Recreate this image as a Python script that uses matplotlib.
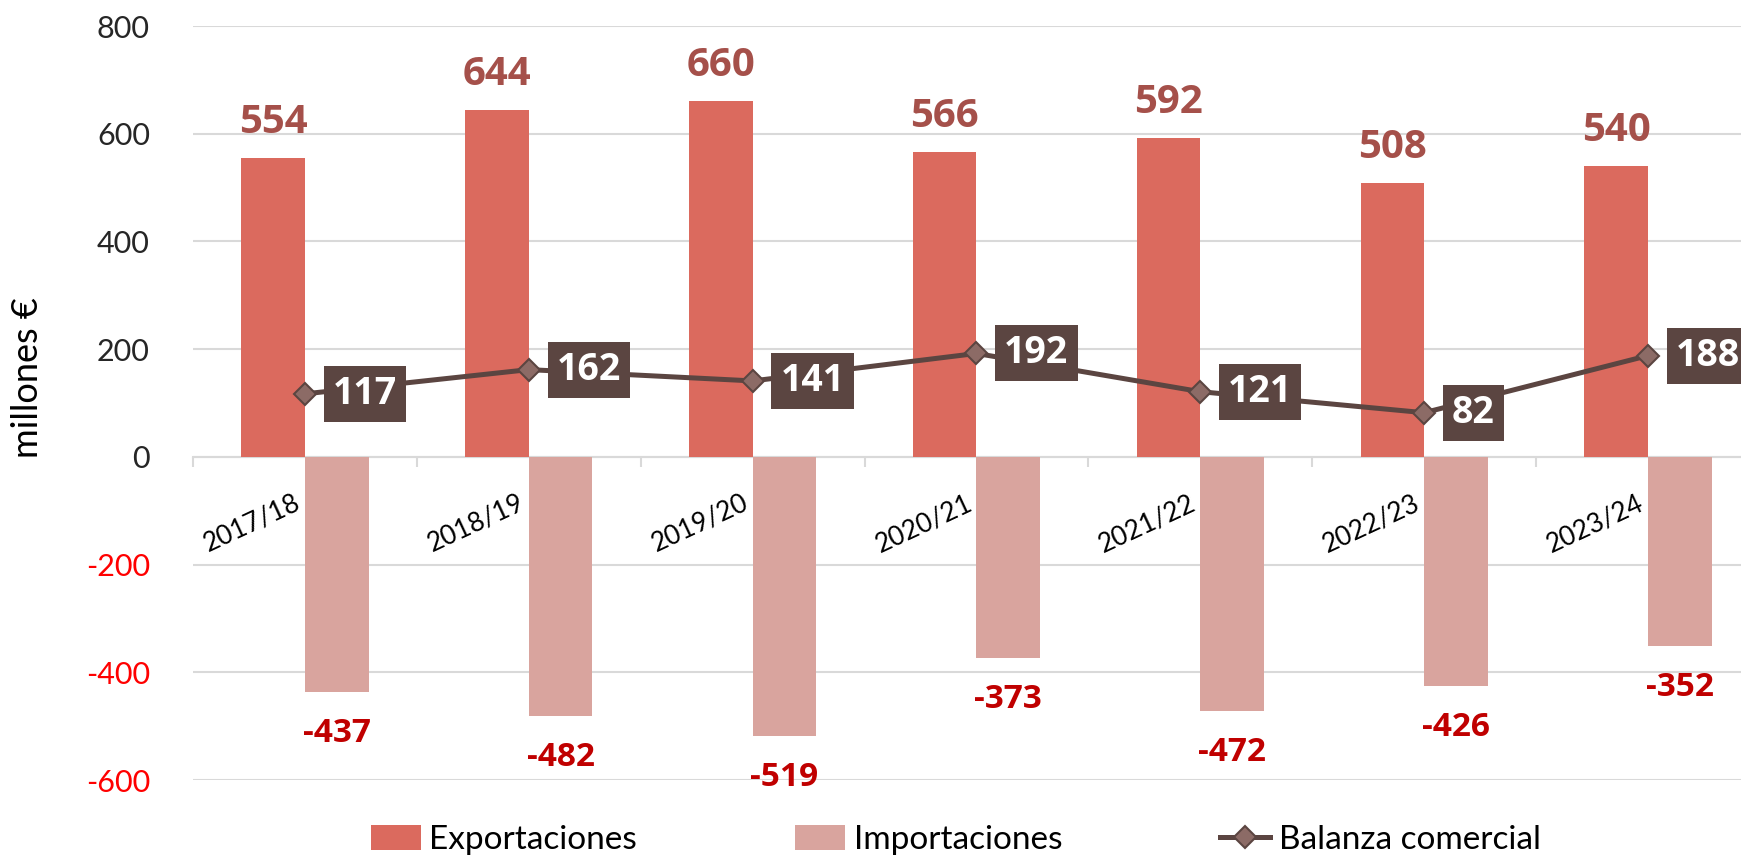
import matplotlib
matplotlib.use("Agg")
import matplotlib.pyplot as plt
import numpy as np

categories = ["2017/18", "2018/19", "2019/20", "2020/21", "2021/22", "2022/23", "2023/24"]
exportaciones = [554, 644, 660, 566, 592, 508, 540]
importaciones = [-437, -482, -519, -373, -472, -426, -352]
balanza = [117, 162, 141, 192, 121, 82, 188]
yticks = [-600, -400, -200, 0, 200, 400, 600, 800]

C_EXP = "#DB6A5E"
C_IMP = "#D9A49E"
C_EXP_LBL = "#A5504A"
C_IMP_LBL = "#C00000"
C_LINE = "#5B4541"
C_MARK = "#8C6B66"
FONT = "Lato"
BOLD = ["Open Sans", "DejaVu Sans"]

plt.rcParams["font.family"] = [FONT, "DejaVu Sans"]

W, H = 1741, 859
fig = plt.figure(figsize=(W / 100, H / 100), dpi=100)
left, right, top, bottom = 193, 1760, 26, 780
ax = fig.add_axes([left / W, 1 - bottom / H, (right - left) / W, (bottom - top) / H])

x = np.arange(len(categories))
bw = 0.284
b1 = ax.bar(x - bw / 2, exportaciones, width=bw, color=C_EXP, zorder=2, label="Exportaciones")
b2 = ax.bar(x + bw / 2, importaciones, width=bw, color=C_IMP, zorder=2, label="Importaciones")
ln, = ax.plot(x, balanza, color=C_LINE, lw=3.6, marker="D", markersize=11,
              markerfacecolor=C_MARK, markeredgecolor=C_LINE, markeredgewidth=1.5,
              zorder=4, label="Balanza comercial")

ax.set_xlim(-0.5, len(categories) - 0.5)
ax.set_ylim(-600, 800)
ax.set_yticks(yticks)
ax.set_yticklabels([str(v) for v in yticks])
for lbl, v in zip(ax.get_yticklabels(), yticks):
    lbl.set_color("#FF0000" if v < 0 else "#262626")
    lbl.set_fontsize(22)
ax.tick_params(axis="y", length=0, pad=31)
ax.grid(axis="y", color="#D9D9D9", lw=1.5, zorder=0)
ax.set_axisbelow(True)
for s in ["top", "right", "left"]:
    ax.spines[s].set_visible(False)
ax.spines["bottom"].set_position(("data", 0))
ax.spines["bottom"].set_color("#D9D9D9")
ax.spines["bottom"].set_linewidth(1.5)
ax.spines["bottom"].set_zorder(1)
ax.set_xticks(x)
ax.set_xticklabels([])
ax.tick_params(axis="x", which="major", length=0)
ax.set_xticks(np.arange(-0.5, len(categories), 1.0), minor=True)
ax.tick_params(axis="x", which="minor", length=7, width=1.5, color="#D9D9D9", direction="out")

# category labels
for i, c in enumerate(categories):
    ax.annotate(c, xy=(i, 0), xytext=(-8, -24), textcoords="offset points",
                rotation=25, rotation_mode="anchor", ha="right", va="top",
                fontsize=19, color="#000000")

ax.set_ylabel("millones €", fontsize=26, color="#000000")
ax.yaxis.set_label_coords(-0.095, 0.534)

for i, v in enumerate(exportaciones):
    ax.annotate(str(v), xy=(i - bw / 2, v), xytext=(0, 18), textcoords="offset points",
                ha="center", va="baseline", fontsize=29, fontweight="bold",
                family=BOLD, color=C_EXP_LBL)
for i, v in enumerate(importaciones):
    ax.annotate(str(v), xy=(i + bw / 2, v), xytext=(0, -36), textcoords="offset points",
                ha="center", va="baseline", fontsize=24, fontweight="bold",
                family=BOLD, color=C_IMP_LBL)
for i, v in enumerate(balanza):
    ax.annotate(str(v), xy=(i, v), xytext=(20, 0), textcoords="offset points",
                ha="left", va="center", fontsize=27, fontweight="bold", family=BOLD,
                color="white",
                bbox=dict(boxstyle="square,pad=0.24", fc=C_LINE, ec="none"), zorder=6)

leg = fig.legend(handles=[b1, b2, ln], loc="center", bbox_to_anchor=(0.549, 0.022), ncol=3,
                 frameon=False, fontsize=24, handlelength=1.5, handleheight=0.75,
                 handletextpad=0.25, columnspacing=4.75)

fig.savefig("out.png", dpi=100)
